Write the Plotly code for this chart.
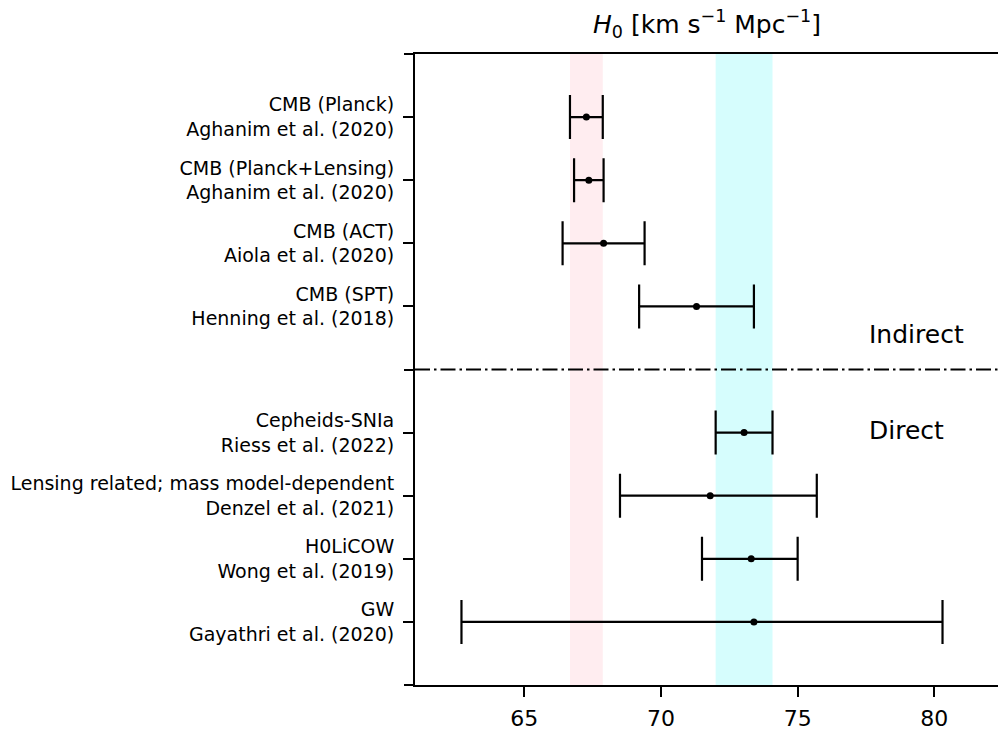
import plotly.graph_objects as go

# ---- data ----
methods = [
    "CMB (Planck)<br>Aghanim et al. (2020)",
    "CMB (Planck+Lensing)<br>Aghanim et al. (2020)",
    "CMB (ACT)<br>Aiola et al. (2020)",
    "CMB (SPT)<br>Henning et al. (2018)",
    "Cepheids-SNIa<br>Riess et al. (2022)",
    "Lensing related; mass model-dependent<br>Denzel et al. (2021)",
    "H0LiCOW<br>Wong et al. (2019)",
    "GW<br>Gayathri et al. (2020)",
]
row_pos = [1, 2, 3, 4, 6, 7, 8, 9]
h0 = [67.27, 67.36, 67.9, 71.3, 73.04, 71.8, 73.3, 73.4]
err_minus = [0.60, 0.54, 1.5, 2.1, 1.04, 3.3, 1.8, 10.7]
err_plus = [0.60, 0.54, 1.5, 2.1, 1.04, 3.9, 1.7, 6.9]

planck_band = [66.67, 67.87]
shoes_band = [72.0, 74.08]
divider_pos = 5
extra_ticks = [0, 5, 10]
group_labels = ["Indirect", "Direct"]
group_label_x = 77.55
group_label_y = [4.45, 5.97]
x_ticks = [65, 70, 75, 80]

FONT = "DejaVu Sans"

fig = go.Figure()
fig.add_trace(go.Scatter(
    x=h0, y=row_pos, mode="markers",
    marker=dict(color="black", size=7),
    error_x=dict(type="data", symmetric=False, array=err_plus, arrayminus=err_minus,
                 color="black", thickness=2.2, width=22),
    showlegend=False, hoverinfo="x+y",
))
# invisible trace on the helper axis carrying the unlabeled ticks
fig.add_trace(go.Scatter(x=[None], y=[None], yaxis="y2", showlegend=False, hoverinfo="skip"))

# shaded bands
fig.add_shape(type="rect", xref="x", yref="paper", x0=planck_band[0], x1=planck_band[1],
              y0=0, y1=1, fillcolor="#FFEDF0", line=dict(width=0), layer="below")
fig.add_shape(type="rect", xref="x", yref="paper", x0=shoes_band[0], x1=shoes_band[1],
              y0=0, y1=1, fillcolor="#D6FDFD", line=dict(width=0), layer="below")
# divider
fig.add_shape(type="line", xref="paper", yref="y", x0=0, x1=1, y0=divider_pos, y1=divider_pos,
              line=dict(color="black", width=2, dash="15px,4px,2.5px,4px"))

for txt, yy in zip(group_labels, group_label_y):
    fig.add_annotation(x=group_label_x, y=yy, xref="x", yref="y", text=txt, showarrow=False,
                       xanchor="left", yanchor="middle", font=dict(family=FONT, size=25, color="black"))

fig.add_annotation(x=0.5, y=1.048, xref="paper", yref="paper",
                   text="<i>H</i><sub>0</sub> [km s<sup>\u22121</sup> Mpc<sup>\u22121</sup>]",
                   showarrow=False, xanchor="center", yanchor="middle",
                   font=dict(family=FONT, size=25, color="black"))

fig.update_layout(
    width=998, height=731,
    margin=dict(l=415, r=0, t=54, b=46),
    paper_bgcolor="white", plot_bgcolor="white",
    font=dict(family=FONT, color="black"),
    xaxis=dict(range=[61.0, 82.33], tickvals=x_ticks, ticks="outside", ticklen=10,
               tickwidth=2, tickcolor="black", showline=True, linewidth=2, linecolor="black",
               mirror=True, showgrid=False, zeroline=False,
               tickfont=dict(family=FONT, size=22, color="black"), ticklabelstandoff=3),
    yaxis=dict(range=[10, 0], tickvals=row_pos, ticktext=methods, ticks="outside",
               ticklen=10, tickwidth=2, tickcolor="black", showline=True, linewidth=2,
               linecolor="black", showgrid=False, zeroline=False,
               tickfont=dict(family=FONT, size=19, color="black"), ticklabelstandoff=5),
    yaxis2=dict(range=[10, 0], overlaying="y", side="left", tickvals=extra_ticks,
                ticks="outside", ticklen=10, tickwidth=2, tickcolor="black",
                showticklabels=False, showline=False, showgrid=False, zeroline=False),
)

fig.write_html("out.html")
